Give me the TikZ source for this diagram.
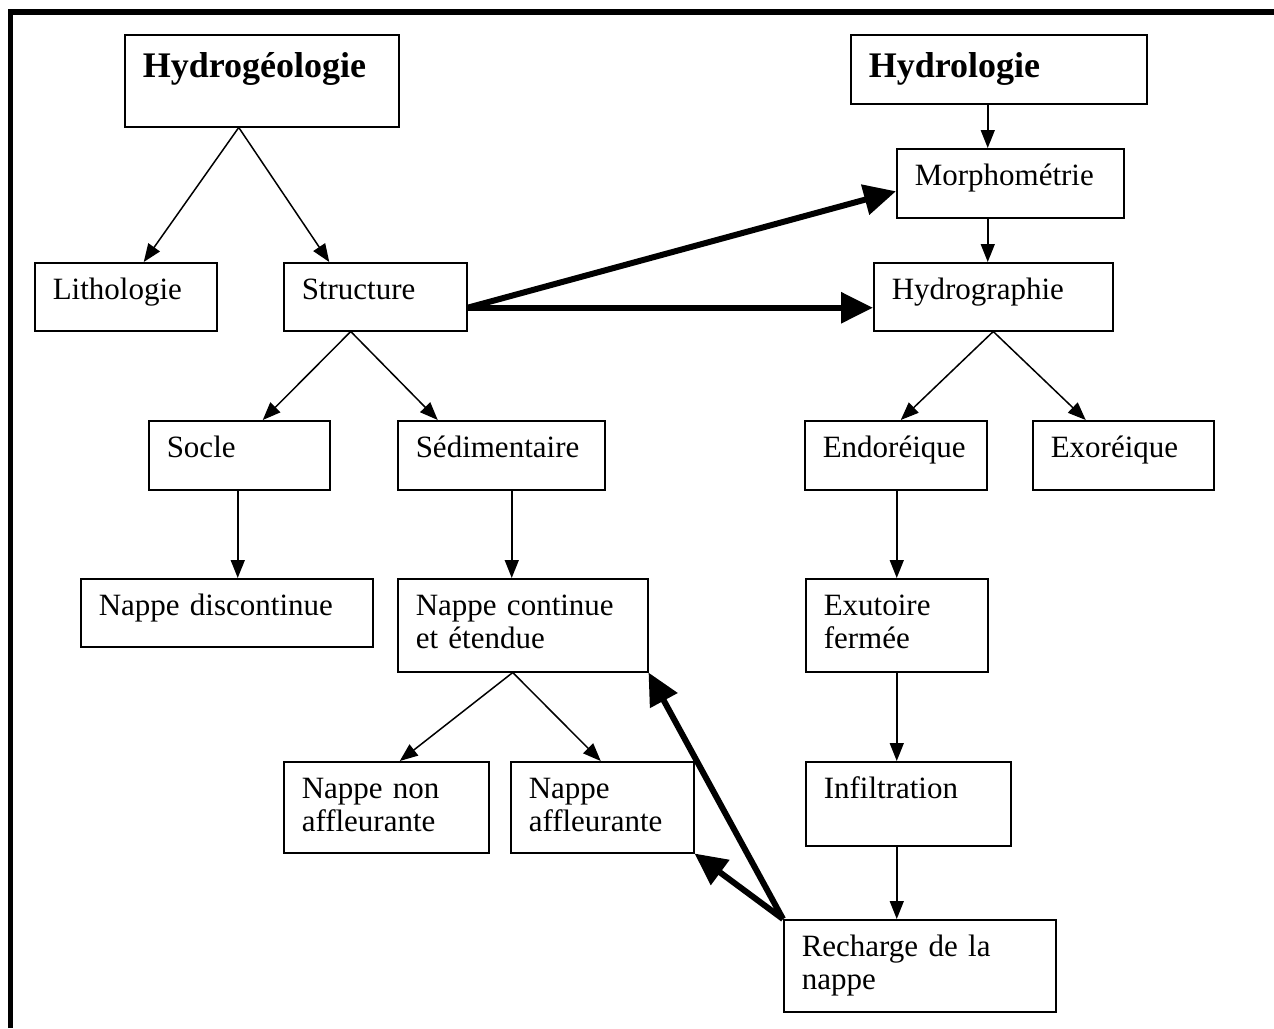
\documentclass[tikz,border=0pt]{standalone}
\usepackage{fontspec}
\setmainfont{Liberation Serif}
\usetikzlibrary{arrows.meta}

\begin{document}
\begin{tikzpicture}[x=1pt, y=-1pt,
	box/.style={draw, line width=1.5pt, anchor=north west, inner xsep=18pt, inner ysep=0pt, align=left, text height=37pt, font=\fontsize{31}{33}\selectfont},
	titlebox/.style={box, text height=43pt, font=\fontsize{36}{40}\selectfont\bfseries},
	arr/.style={-{Triangle[length=18pt,width=14pt]}, line width=1.5pt},
	fat/.style={-{Triangle[length=32pt,width=30pt]}, line width=6pt}]
	\useasboundingbox (0,0) rectangle (1274,1028);
	\draw[line width=5.5pt] (10.5,1028) -- (10.5,12) -- (1274,12);
	% left branch
	\node[titlebox, text width=238pt, text depth=49pt] (hgeo) at (124,34) {Hydrogéologie};
	\node[box, text width=146pt, text depth=31pt] (litho) at (34,262) {Lithologie};
	\node[box, text width=147pt, text depth=31pt] (struct) at (283,262) {Structure};
	\node[box, text width=145pt, text depth=32pt] (socle) at (148,420) {Socle};
	\node[box, text width=171pt, text depth=32pt] (sedim) at (397,420) {Sédimentaire};
	\node[box, text width=256pt, text depth=31pt] (ndisc) at (80,578) {Nappe discontinue};
	\node[box, text width=214pt, text depth=56pt] (ncont) at (397,578) {Nappe continue\\et étendue};
	\node[box, text width=169pt, text depth=54pt] (nnon) at (283,761) {Nappe non\\affleurante};
	\node[box, text width=147pt, text depth=54pt] (naff) at (510,761) {Nappe\\affleurante};
	% right branch
	\node[titlebox, text width=260pt, text depth=26pt] (hydro) at (850,34) {Hydrologie};
	\node[box, text width=191pt, text depth=32pt] (morph) at (896,148) {Morphométrie};
	\node[box, text width=203pt, text depth=31pt] (hgraph) at (873,262) {Hydrographie};
	\node[box, text width=146pt, text depth=32pt] (endo) at (804,420) {Endoréique};
	\node[box, text width=145pt, text depth=32pt] (exo) at (1032,420) {Exoréique};
	\node[box, text width=146pt, text depth=56pt] (exut) at (805,578) {Exutoire\\fermée};
	\node[box, text width=169pt, text depth=47pt] (infil) at (805,761) {Infiltration};
	\node[box, text width=236pt, text depth=55pt] (rech) at (783,919) {Recharge de la\\nappe};

	\draw[arr] ([xshift=-23pt]hgeo.south) -- ([xshift=18pt]litho.north);
	\draw[arr] ([xshift=-23pt]hgeo.south) -- ([xshift=-46pt]struct.north);
	\draw[arr] ([xshift=-24.5pt]struct.south) -- ([xshift=23.5pt]socle.north);
	\draw[arr] ([xshift=-24.5pt]struct.south) -- ([xshift=-63.5pt]sedim.north);
	\draw[arr] ([xshift=-1.5pt]socle.south) -- ([xshift=11pt]ndisc.north);
	\draw[arr] ([xshift=10.5pt]sedim.south) -- ([xshift=-11pt]ncont.north);
	\draw[arr] ([xshift=-10pt]ncont.south) -- ([xshift=13.5pt]nnon.north);
	\draw[arr] ([xshift=-10pt]ncont.south) -- ([xshift=-1.5pt]naff.north);
	\draw[arr] ([xshift=-11pt]hydro.south) -- ([xshift=-22.5pt]morph.north);
	\draw[arr] ([xshift=-22.5pt]morph.south) -- ([xshift=-5.5pt]hgraph.north);
	\draw[arr] (hgraph.south) -- ([xshift=5pt]endo.north);
	\draw[arr] (hgraph.south) -- ([xshift=-37.5pt]exo.north);
	\draw[arr] ([xshift=1pt]endo.south) -- (exut.north);
	\draw[arr] (exut.south) -- ([xshift=-11.5pt]infil.north);
	\draw[arr] ([xshift=-11.5pt]infil.south) -- ([xshift=-23pt]rech.north);
	% thick links
	\draw[fat] ([yshift=-11pt]struct.east) -- ([yshift=-8pt]morph.west);
	\draw[fat] ([yshift=-11pt]struct.east) -- ([yshift=-11pt]hgraph.west);
	\draw[fat] (rech.north west) -- (ncont.south east);
	\draw[fat] (rech.north west) -- (naff.south east);
\end{tikzpicture}
\end{document}
